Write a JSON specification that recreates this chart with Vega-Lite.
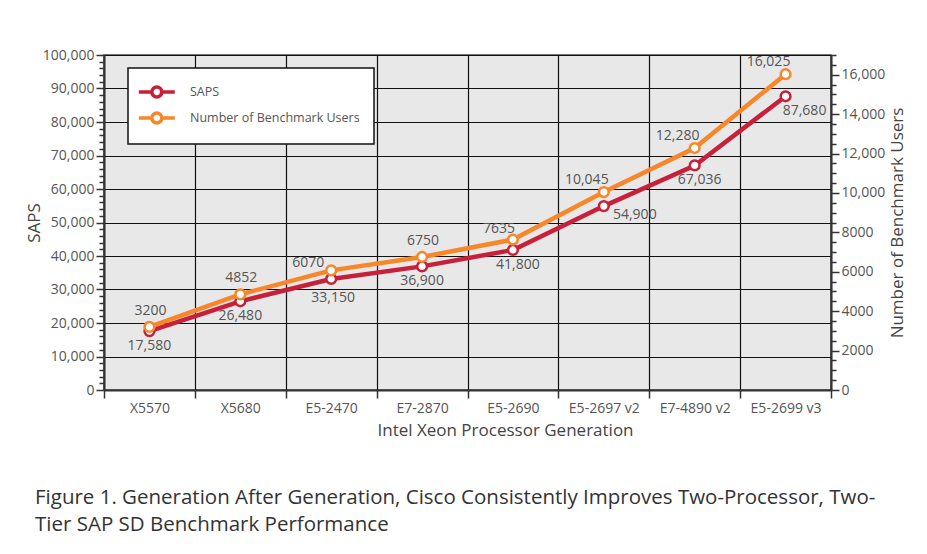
{
  "$schema": "https://vega.github.io/schema/vega-lite/v6.json",
  "width": 727,
  "height": 335,
  "autosize": {"type": "none"},
  "padding": {"left": 104, "top": 55, "right": 96, "bottom": 164},
  "background": "white",
  "data": {"values": [
    {"gen": "X5570", "saps": 17580, "users": 3200},
    {"gen": "X5680", "saps": 26480, "users": 4852},
    {"gen": "E5-2470", "saps": 33150, "users": 6070},
    {"gen": "E7-2870", "saps": 36900, "users": 6750},
    {"gen": "E5-2690", "saps": 41800, "users": 7635},
    {"gen": "E5-2697 v2", "saps": 54900, "users": 10045},
    {"gen": "E7-4890 v2", "saps": 67036, "users": 12280},
    {"gen": "E5-2699 v3", "saps": 87680, "users": 16025}
  ]},
  "title": {
    "text": ["Figure 1. Generation After Generation, Cisco Consistently Improves Two-Processor, Two-", "Tier SAP SD Benchmark Performance"],
    "orient": "bottom",
    "anchor": "start",
    "frame": "group",
    "dx": -69,
    "offset": 50,
    "font": "Open Sans",
    "fontSize": 20.5,
    "fontWeight": "normal",
    "color": "#333333",
    "lineHeight": 27
  },
  "encoding": {
    "x": {
      "field": "gen", "type": "nominal", "sort": null,
      "scale": {"type": "band", "paddingInner": 0, "paddingOuter": 0},
      "axis": {
        "title": "Intel Xeon Processor Generation",
        "titleX": 401,
        "titleAlign": "center",
        "labelAngle": 0,
        "tickBand": "extent",
        "grid": true,
        "gridColor": "#111111",
        "gridWidth": 1.2,
        "tickSize": 8,
        "tickColor": "#333333",
        "tickWidth": 1.5,
        "domainColor": "#333333",
        "domainWidth": 2,
        "labelPadding": 3,
        "titlePadding": 7
      }
    }
  },
  "layer": [
    {
      "encoding": {
        "y": {
          "field": "saps", "type": "quantitative",
          "scale": {"domain": [0, 100000], "nice": false},
          "axis": {
            "title": "SAPS",
            "orient": "left",
            "titleX": -70,
            "titleY": 167.5,
            "titleAngle": 270,
            "titleAlign": "center",
            "titleBaseline": "middle",
            "tickCount": 50,
            "labelOverlap": false,
            "labelExpr": "datum.value % 10000 === 0 ? format(datum.value, ',') : ''",
            "tickSize": {"condition": {"test": "datum.value % 10000 === 0", "value": 8}, "value": 5},
            "tickColor": "#333333",
            "tickWidth": 1.5,
            "grid": true,
            "gridColor": "#111111",
            "gridWidth": 1.2,
            "gridOpacity": {"condition": {"test": "datum.value % 10000 === 0", "value": 1}, "value": 0},
            "domainColor": "#333333",
            "domainWidth": 2,
            "labelPadding": 2
          }
        }
      },
      "layer": [
        {
          "mark": {"type": "line", "strokeWidth": 4.5},
          "encoding": {"stroke": {"datum": "SAPS", "scale": {"domain": ["SAPS", "Number of Benchmark Users"], "range": ["#c8203a", "#f7872a"]}}}
        },
        {
          "mark": {"type": "point", "shape": "circle", "filled": false, "fill": "white", "fillOpacity": 1, "opacity": 1, "size": 95, "strokeWidth": 2.5},
          "encoding": {"stroke": {"datum": "SAPS"}}
        },
        {
          "transform": [{"filter": {"field": "gen", "oneOf": ["X5570", "X5680", "E7-2870"]}}],
          "mark": {"type": "text", "dy": 15, "baseline": "middle", "align": "center"},
          "encoding": {"text": {"field": "saps", "format": ","}}
        },
        {
          "transform": [{"filter": {"field": "gen", "oneOf": ["E5-2470"]}}],
          "mark": {"type": "text", "dx": 2, "dy": 19, "baseline": "middle", "align": "center"},
          "encoding": {"text": {"field": "saps", "format": ","}}
        },
        {
          "transform": [{"filter": {"field": "gen", "oneOf": ["E5-2690", "E7-4890 v2"]}}],
          "mark": {"type": "text", "dx": 5, "dy": 15, "baseline": "middle", "align": "center"},
          "encoding": {"text": {"field": "saps", "format": ","}}
        },
        {
          "transform": [{"filter": {"field": "gen", "oneOf": ["E5-2697 v2"]}}],
          "mark": {"type": "text", "dx": 31, "dy": 9, "baseline": "middle", "align": "center"},
          "encoding": {"text": {"field": "saps", "format": ","}}
        },
        {
          "transform": [{"filter": {"field": "gen", "oneOf": ["E5-2699 v3"]}}],
          "mark": {"type": "text", "dx": 19, "dy": 15, "baseline": "middle", "align": "center"},
          "encoding": {"text": {"field": "saps", "format": ","}}
        }
      ]
    },
    {
      "encoding": {
        "y": {
          "field": "users", "type": "quantitative",
          "scale": {"domain": [0, 17000], "nice": false},
          "axis": {
            "title": "Number of Benchmark Users",
            "orient": "right",
            "titleX": 66,
            "titleY": 167.5,
            "titleAngle": 270,
            "titleAlign": "center",
            "titleBaseline": "middle",
            "tickCount": 34,
            "labelOverlap": false,
            "labelExpr": "datum.value % 2000 === 0 ? (datum.value >= 10000 ? format(datum.value, ',') : format(datum.value, 'd')) : ''",
            "tickSize": {"condition": {"test": "datum.value % 2000 === 0", "value": 8}, "value": 5},
            "tickColor": "#333333",
            "tickWidth": 1.5,
            "grid": false,
            "domainColor": "#333333",
            "domainWidth": 2,
            "labelPadding": 2
          }
        }
      },
      "layer": [
        {
          "mark": {"type": "line", "strokeWidth": 4.5},
          "encoding": {"stroke": {"datum": "Number of Benchmark Users"}}
        },
        {
          "mark": {"type": "point", "shape": "circle", "filled": false, "fill": "white", "fillOpacity": 1, "opacity": 1, "size": 95, "strokeWidth": 2.5},
          "encoding": {"stroke": {"datum": "Number of Benchmark Users"}}
        },
        {
          "transform": [{"filter": {"field": "gen", "oneOf": ["X5570", "X5680", "E7-2870"]}}],
          "mark": {"type": "text", "dx": 1, "dy": -16, "baseline": "middle", "align": "center"},
          "encoding": {"text": {"condition": {"test": "datum.users >= 10000", "field": "users", "format": ","}, "field": "users", "format": "d"}}
        },
        {
          "transform": [{"filter": {"field": "gen", "oneOf": ["E5-2470"]}}],
          "mark": {"type": "text", "dx": -23, "dy": -7, "baseline": "middle", "align": "center"},
          "encoding": {"text": {"condition": {"test": "datum.users >= 10000", "field": "users", "format": ","}, "field": "users", "format": "d"}}
        },
        {
          "transform": [{"filter": {"field": "gen", "oneOf": ["E5-2690"]}}],
          "mark": {"type": "text", "dx": -14, "dy": -11, "baseline": "middle", "align": "center"},
          "encoding": {"text": {"condition": {"test": "datum.users >= 10000", "field": "users", "format": ","}, "field": "users", "format": "d"}}
        },
        {
          "transform": [{"filter": {"field": "gen", "oneOf": ["E5-2697 v2", "E7-4890 v2", "E5-2699 v3"]}}],
          "mark": {"type": "text", "dx": -17, "dy": -12, "baseline": "middle", "align": "center"},
          "encoding": {"text": {"condition": {"test": "datum.users >= 10000", "field": "users", "format": ","}, "field": "users", "format": "d"}}
        }
      ]
    }
  ],
  "resolve": {"scale": {"y": "independent"}},
  "config": {
    "font": "Open Sans",
    "view": {"fill": "#e8e8e8", "stroke": "#444444", "strokeWidth": 1.5},
    "text": {"font": "Open Sans", "fontSize": 14, "color": "#555555"},
    "axis": {
      "labelFont": "Open Sans",
      "labelFontSize": 14,
      "labelColor": "#555555",
      "titleFont": "Open Sans",
      "titleFontSize": 17,
      "titleFontWeight": "normal",
      "titleColor": "#444444"
    },
    "legend": {
      "orient": "none",
      "legendX": 24,
      "legendY": 13,
      "title": null,
      "fillColor": "white",
      "strokeColor": "#111111",
      "strokeWidth": 1.5,
      "padding": 14,
      "labelFont": "Open Sans",
      "labelFontSize": 12.5,
      "labelColor": "#555555",
      "labelOffset": 28,
      "labelLimit": 400,
      "rowPadding": 2,
      "symbolType": "M-1.65,0H-0.02M1.22,0H2.85M-0.02,0A0.62,0.62 0 1,1 1.22,0A0.62,0.62 0 1,1 -0.02,0",
      "symbolSize": 256,
      "symbolStrokeWidth": 3.5,
      "symbolFillColor": "white"
    }
  }
}
